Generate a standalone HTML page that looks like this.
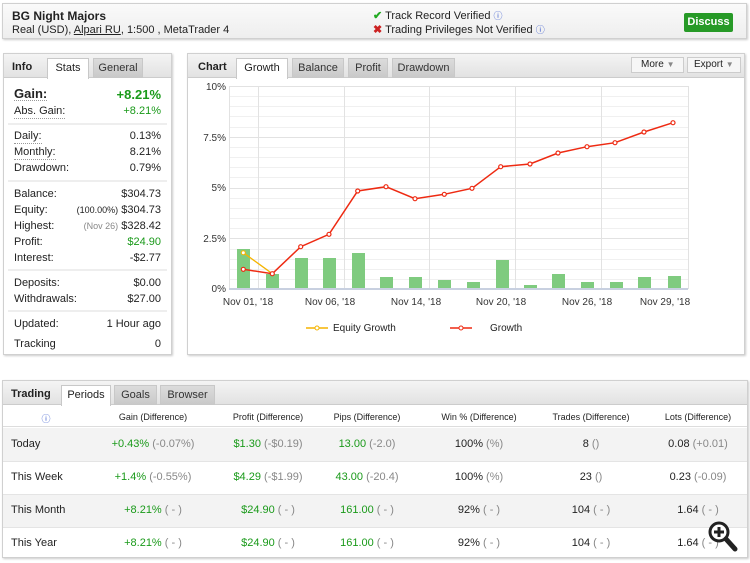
<!DOCTYPE html>
<html><head><meta charset="utf-8"><style>
*{box-sizing:border-box;margin:0;padding:0}
body{width:750px;height:563px;background:#fff;font-family:"Liberation Sans",sans-serif;font-size:11px;color:#222;position:relative;overflow:hidden}
.abs{position:absolute}
.box{position:absolute;border:1px solid #d0d0d0;background:#fff;box-shadow:1px 1px 2px #ccc}
.tabbar{position:absolute;left:0;right:0;top:0;height:24px;background:linear-gradient(#f4f4f4,#e2e2e2);border-bottom:1px solid #ccc}
.tab{position:absolute;top:4px;height:20px;font-size:11px;text-align:center;line-height:19px;border:1px solid #c8c8c8;border-bottom:none}
.tab.on{background:#fff;height:21px}
.tab.off{background:linear-gradient(#dcdcdc,#c8c8c8);color:#333}
.ttl{position:absolute;top:7px;font-weight:bold;font-size:11px}
.row{position:absolute;left:10px;right:10px;height:16px;font-size:11px}
.row .l{position:absolute;left:0;border-bottom:1px dotted #999;line-height:13px}
.row .r{position:absolute;right:0}
.g{color:#1a9a1a}
.sep{position:absolute;left:4px;right:4px;height:2px;background:#eee}
.th{position:absolute;top:0;font-size:9px;transform:translateX(-50%);white-space:nowrap}
.td{position:absolute;transform:translateX(-50%);white-space:nowrap}
.gr{color:#888}
</style></head><body>
<div class="box" style="left:2px;top:3px;width:745px;height:36px;background:linear-gradient(#fafafa,#eee)">
 <div class="abs" style="left:9px;top:5px;font-weight:bold;font-size:12px">BG Night Majors</div>
 <div class="abs" style="left:9px;top:20px;font-size:11px">Real (USD), <u>Alpari RU</u>, 1:500 , MetaTrader 4</div>
 <div class="abs" style="left:370px;top:5px;font-size:11px"><span style="color:#2a2;font-weight:bold">✔</span> Track Record Verified <span style="color:#35c;font-size:9px">ⓘ</span></div>
 <div class="abs" style="left:370px;top:19px;font-size:11px"><span style="color:#c22;font-weight:bold">✖</span> Trading Privileges Not Verified <span style="color:#35c;font-size:9px">ⓘ</span></div>
 <div class="abs" style="left:681px;top:9px;width:49px;height:19px;background:#279a27;border-radius:2px;color:#fff;font-weight:bold;font-size:11px;text-align:center;line-height:19px">Discuss</div>
</div>

<div class="box" style="left:3px;top:53px;width:169px;height:302px">
 <div class="tabbar"></div>
 <div class="ttl" style="left:8px">Info</div>
 <div class="tab on" style="left:43px;width:42px">Stats</div>
 <div class="tab off" style="left:89px;width:50px">General</div>
 <div class="row" style="top:33px;font-size:13px;font-weight:bold"><span class="l">Gain:</span><span class="r g">+8.21%</span></div>
 <div class="row" style="top:51px"><span class="l">Abs. Gain:</span><span class="r g">+8.21%</span></div>
 <div class="sep" style="top:69px"></div>
 <div class="row" style="top:76px"><span class="l">Daily:</span><span class="r">0.13%</span></div>
 <div class="row" style="top:92px"><span class="l">Monthly:</span><span class="r">8.21%</span></div>
 <div class="row" style="top:108px"><span class="l" style="border:none">Drawdown:</span><span class="r">0.79%</span></div>
 <div class="sep" style="top:126px"></div>
 <div class="row" style="top:134px"><span class="l" style="border:none">Balance:</span><span class="r">$304.73</span></div>
 <div class="row" style="top:150px"><span class="l" style="border:none">Equity:</span><span class="r"><span style="font-size:9px">(100.00%)</span> $304.73</span></div>
 <div class="row" style="top:166px"><span class="l" style="border:none">Highest:</span><span class="r"><span class="gr" style="font-size:9px">(Nov 26)</span> $328.42</span></div>
 <div class="row" style="top:182px"><span class="l" style="border:none">Profit:</span><span class="r g">$24.90</span></div>
 <div class="row" style="top:198px"><span class="l" style="border:none">Interest:</span><span class="r">-$2.77</span></div>
 <div class="sep" style="top:215px"></div>
 <div class="row" style="top:223px"><span class="l" style="border:none">Deposits:</span><span class="r">$0.00</span></div>
 <div class="row" style="top:239px"><span class="l" style="border:none">Withdrawals:</span><span class="r">$27.00</span></div>
 <div class="sep" style="top:256px"></div>
 <div class="row" style="top:264px"><span class="l" style="border:none">Updated:</span><span class="r">1 Hour ago</span></div>
 <div class="row" style="top:284px"><span class="l" style="border:none">Tracking</span><span class="r">0</span></div>
</div>

<div class="box" style="left:187px;top:53px;width:558px;height:302px">
 <div class="tabbar"></div>
 <div class="ttl" style="left:10px">Chart</div>
 <div class="tab on" style="left:48px;width:52px">Growth</div>
 <div class="tab off" style="left:104px;width:52px">Balance</div>
 <div class="tab off" style="left:160px;width:40px">Profit</div>
 <div class="tab off" style="left:204px;width:63px">Drawdown</div>
 <div class="abs" style="left:443px;top:3px;width:53px;height:16px;border:1px solid #ccc;background:#f6f6f6;font-size:10px;line-height:14px;padding-left:9px">More <span style="color:#888;font-size:8px">▼</span></div>
 <div class="abs" style="left:499px;top:3px;width:54px;height:16px;border:1px solid #ccc;background:#f6f6f6;font-size:10px;line-height:14px;padding-left:6px">Export <span style="color:#888;font-size:8px">▼</span></div>
</div>
<svg class="abs" style="left:0;top:0" width="750" height="563">
 <g stroke="#f0f0f0" stroke-width="1">
  <line x1="229" x2="688" y1="96.5" y2="96.5"/><line x1="229" x2="688" y1="106.5" y2="106.5"/><line x1="229" x2="688" y1="116.5" y2="116.5"/><line x1="229" x2="688" y1="127.5" y2="127.5"/>
  <line x1="229" x2="688" y1="147.5" y2="147.5"/><line x1="229" x2="688" y1="157.5" y2="157.5"/><line x1="229" x2="688" y1="167.5" y2="167.5"/><line x1="229" x2="688" y1="177.5" y2="177.5"/>
  <line x1="229" x2="688" y1="198.5" y2="198.5"/><line x1="229" x2="688" y1="208.5" y2="208.5"/><line x1="229" x2="688" y1="218.5" y2="218.5"/><line x1="229" x2="688" y1="228.5" y2="228.5"/>
  <line x1="229" x2="688" y1="249.5" y2="249.5"/><line x1="229" x2="688" y1="259.5" y2="259.5"/><line x1="229" x2="688" y1="269.5" y2="269.5"/><line x1="229" x2="688" y1="279.5" y2="279.5"/>
 </g>
 <g stroke="#e2e2e2" stroke-width="1">
  <line x1="229" x2="688" y1="86.5" y2="86.5"/><line x1="229" x2="688" y1="137.5" y2="137.5"/><line x1="229" x2="688" y1="188.5" y2="188.5"/><line x1="229" x2="688" y1="238.5" y2="238.5"/>
  <line x1="258.5" x2="258.5" y1="86" y2="289"/><line x1="344.5" x2="344.5" y1="86" y2="289"/><line x1="429.5" x2="429.5" y1="86" y2="289"/><line x1="515.5" x2="515.5" y1="86" y2="289"/><line x1="601.5" x2="601.5" y1="86" y2="289"/><line x1="688.5" x2="688.5" y1="86" y2="289"/><line x1="229.5" x2="229.5" y1="86" y2="289"/>
 </g>
 <g fill="#7fcb7f">
  <rect x="237" y="249" width="13" height="40"/><rect x="266" y="274" width="13" height="15"/><rect x="295" y="258" width="13" height="31"/><rect x="323" y="258" width="13" height="31"/><rect x="352" y="253" width="13" height="36"/><rect x="380" y="277" width="13" height="12"/><rect x="409" y="277" width="13" height="12"/><rect x="438" y="280" width="13" height="9"/><rect x="467" y="282" width="13" height="7"/><rect x="496" y="260" width="13" height="29"/><rect x="524" y="285" width="13" height="4"/><rect x="552" y="274" width="13" height="15"/><rect x="581" y="282" width="13" height="7"/><rect x="610" y="282" width="13" height="7"/><rect x="638" y="277" width="13" height="12"/><rect x="668" y="276" width="13" height="13"/>
 </g>
 <line x1="229" x2="688" y1="289" y2="289" stroke="#c8d0e0" stroke-width="2"/>
 <polyline points="243.3,252.7 272.3,273.7" fill="none" stroke="#f5b400" stroke-width="1.3"/>
 <circle cx="243.3" cy="252.7" r="2" fill="#fff" stroke="#f5b400"/>
 <polyline points="243.3,269.3 272.3,273.7 300.7,246.7 329,234.3 357.7,191 386,186.7 415,198.7 444.3,194.3 472,188.3 500.7,166.7 530,164 558,153 587,146.7 615,142.7 644,132 673,122.7" fill="none" stroke="#ee2a12" stroke-width="1.5"/>
 <g fill="#fff" stroke="#ee2a12" stroke-width="1.2">
  <circle cx="243.3" cy="269.3" r="2"/><circle cx="272.3" cy="273.7" r="2"/><circle cx="300.7" cy="246.7" r="2"/><circle cx="329" cy="234.3" r="2"/><circle cx="357.7" cy="191" r="2"/><circle cx="386" cy="186.7" r="2"/><circle cx="415" cy="198.7" r="2"/><circle cx="444.3" cy="194.3" r="2"/><circle cx="472" cy="188.3" r="2"/><circle cx="500.7" cy="166.7" r="2"/><circle cx="530" cy="164" r="2"/><circle cx="558" cy="153" r="2"/><circle cx="587" cy="146.7" r="2"/><circle cx="615" cy="142.7" r="2"/><circle cx="644" cy="132" r="2"/><circle cx="673" cy="122.7" r="2"/>
 </g>
 <g font-family="Liberation Sans, sans-serif" font-size="10" fill="#333" text-anchor="end">
  <text x="226" y="90">10%</text><text x="226" y="141">7.5%</text><text x="226" y="191">5%</text><text x="226" y="242">2.5%</text><text x="226" y="292">0%</text>
 </g>
 <g font-family="Liberation Sans, sans-serif" font-size="10" fill="#333" text-anchor="middle">
  <text x="248" y="305">Nov 01, '18</text><text x="330" y="305">Nov 06, '18</text><text x="416" y="305">Nov 14, '18</text><text x="501" y="305">Nov 20, '18</text><text x="587" y="305">Nov 26, '18</text><text x="665" y="305">Nov 29, '18</text>
 </g>
 <line x1="306" x2="328" y1="328" y2="328" stroke="#f5b400" stroke-width="1.5"/><circle cx="317" cy="328" r="2" fill="#fff" stroke="#f5b400"/>
 <text x="333" y="331" font-family="Liberation Sans, sans-serif" font-size="10" fill="#222">Equity Growth</text>
 <line x1="450" x2="472" y1="328" y2="328" stroke="#ee2a12" stroke-width="1.5"/><circle cx="461" cy="328" r="2" fill="#fff" stroke="#ee2a12"/>
 <text x="490" y="331" font-family="Liberation Sans, sans-serif" font-size="10" fill="#222">Growth</text>
</svg>

<div class="box" style="left:2px;top:380px;width:746px;height:178px">
 <div class="tabbar"></div>
 <div class="ttl" style="left:8px">Trading</div>
 <div class="tab on" style="left:58px;width:50px">Periods</div>
 <div class="tab off" style="left:111px;width:43px">Goals</div>
 <div class="tab off" style="left:157px;width:55px">Browser</div>
 <div class="abs" style="left:0;right:0;top:24px;height:22px;border-bottom:1px solid #ddd;font-size:9px">
  <div class="th" style="left:43px;top:7px;color:#35c">ⓘ</div>
  <div class="th" style="left:150px;top:7px">Gain (Difference)</div>
  <div class="th" style="left:265px;top:7px">Profit (Difference)</div>
  <div class="th" style="left:364px;top:7px">Pips (Difference)</div>
  <div class="th" style="left:476px;top:7px">Win % (Difference)</div>
  <div class="th" style="left:588px;top:7px">Trades (Difference)</div>
  <div class="th" style="left:695px;top:7px">Lots (Difference)</div>
 </div>
 <div class="abs" style="left:0;right:0;top:47px;height:33px;background:#f3f3f3"></div>
 <div class="abs" style="left:0;right:0;top:113px;height:33px;background:#f3f3f3"></div>
 <div class="abs" style="left:0;right:0;top:80px;height:1px;background:#e4e4e4"></div>
 <div class="abs" style="left:0;right:0;top:113px;height:1px;background:#e4e4e4"></div>
 <div class="abs" style="left:0;right:0;top:146px;height:1px;background:#e4e4e4"></div>
 <div class="abs" style="left:0;right:0;top:57px;height:14px">
  <span class="abs" style="left:8px">Today</span>
  <span class="td" style="left:150px"><span class="g">+0.43%</span> <span class="gr">(-0.07%)</span></span>
  <span class="td" style="left:265px"><span class="g">$1.30</span> <span class="gr">(-$0.19)</span></span>
  <span class="td" style="left:364px"><span class="g">13.00</span> <span class="gr">(-2.0)</span></span>
  <span class="td" style="left:476px">100% <span class="gr">(%)</span></span>
  <span class="td" style="left:588px">8 <span class="gr">()</span></span>
  <span class="td" style="left:695px">0.08 <span class="gr">(+0.01)</span></span>
 </div>
 <div class="abs" style="left:0;right:0;top:90px;height:14px">
  <span class="abs" style="left:8px">This Week</span>
  <span class="td" style="left:150px"><span class="g">+1.4%</span> <span class="gr">(-0.55%)</span></span>
  <span class="td" style="left:265px"><span class="g">$4.29</span> <span class="gr">(-$1.99)</span></span>
  <span class="td" style="left:364px"><span class="g">43.00</span> <span class="gr">(-20.4)</span></span>
  <span class="td" style="left:476px">100% <span class="gr">(%)</span></span>
  <span class="td" style="left:588px">23 <span class="gr">()</span></span>
  <span class="td" style="left:695px">0.23 <span class="gr">(-0.09)</span></span>
 </div>
 <div class="abs" style="left:0;right:0;top:123px;height:14px">
  <span class="abs" style="left:8px">This Month</span>
  <span class="td" style="left:150px"><span class="g">+8.21%</span> <span class="gr">( - )</span></span>
  <span class="td" style="left:265px"><span class="g">$24.90</span> <span class="gr">( - )</span></span>
  <span class="td" style="left:364px"><span class="g">161.00</span> <span class="gr">( - )</span></span>
  <span class="td" style="left:476px">92% <span class="gr">( - )</span></span>
  <span class="td" style="left:588px">104 <span class="gr">( - )</span></span>
  <span class="td" style="left:695px">1.64 <span class="gr">( - )</span></span>
 </div>
 <div class="abs" style="left:0;right:0;top:156px;height:14px">
  <span class="abs" style="left:8px">This Year</span>
  <span class="td" style="left:150px"><span class="g">+8.21%</span> <span class="gr">( - )</span></span>
  <span class="td" style="left:265px"><span class="g">$24.90</span> <span class="gr">( - )</span></span>
  <span class="td" style="left:364px"><span class="g">161.00</span> <span class="gr">( - )</span></span>
  <span class="td" style="left:476px">92% <span class="gr">( - )</span></span>
  <span class="td" style="left:588px">104 <span class="gr">( - )</span></span>
  <span class="td" style="left:695px">1.64 <span class="gr">( - )</span></span>
 </div>
</div>
<svg class="abs" style="left:708px;top:521px" width="30" height="32">
 <circle cx="11" cy="11" r="9" fill="#fff" stroke="#222" stroke-width="3"/>
 <line x1="18" y1="18" x2="27" y2="28" stroke="#222" stroke-width="5" stroke-linecap="round"/>
 <line x1="6" y1="11" x2="16" y2="11" stroke="#222" stroke-width="3"/><line x1="11" y1="6" x2="11" y2="16" stroke="#222" stroke-width="3"/>
</svg>
</body></html>
